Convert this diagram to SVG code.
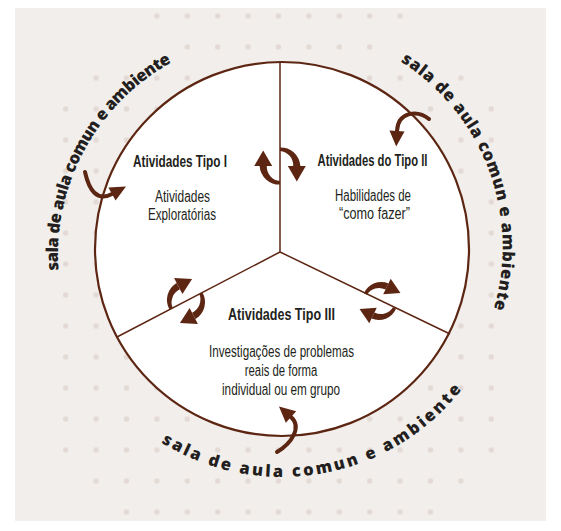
<svg xmlns="http://www.w3.org/2000/svg" width="561" height="531" viewBox="0 0 561 531">
<defs>
<style>
.lbl{font-family:"Liberation Sans",Arial,sans-serif;font-size:16px;fill:#231f20;text-anchor:middle}
.ttl{font-weight:700}
.arc{font-family:"Open Sans","Liberation Sans",sans-serif;font-weight:800;font-size:16.5px;fill:#231f20}
.ring{fill:#fff;stroke:#5c2613;stroke-width:2.2}
.div{stroke:#5c2613;stroke-width:1.5;fill:none}
.conn{stroke:#5c2613;stroke-width:4;fill:none;stroke-linecap:round}
.head{fill:#5c2613}
</style>
<pattern id="dots" patternUnits="userSpaceOnUse" x="50.5" y="0.5" width="30.4" height="31">
<circle cx="15.2" cy="15.5" r="2.7" fill="#e3d9d5"/>
</pattern>
<path id="pL" d="M 58.5,270.3 A 220 220 0 0 1 202.8,48.3"/>
<path id="pR" d="M 400.5,61.5 A 220 220 0 0 1 488.7,324.2"/>
<path id="pB" d="M 161.2,442.4 A 228 228 0 0 0 479.5,363"/>
<g id="refresh" class="head">
<path d="M 0,-15.5 A 16.5 16.5 0 0 1 17,0 L 11,0 A 12 12 0 0 0 0,-12.5 Z"/>
<path d="M 6.5,0 L 21.5,0 L 14,13 Z"/>
<path transform="rotate(180)" d="M 0,-15.5 A 16.5 16.5 0 0 1 17,0 L 11,0 A 12 12 0 0 0 0,-12.5 Z"/>
<path transform="rotate(180)" d="M 6.5,0 L 21.5,0 L 14,13 Z"/>
</g>
</defs>

<g id="background">
<rect x="15" y="8" width="531" height="513" fill="#f2eeeb"/>
<rect x="141.7" y="0.5" width="273.6" height="31" fill="url(#dots)"/>
<rect x="172.1" y="31.5" width="212.8" height="31" fill="url(#dots)"/>
<rect x="80.9" y="62.5" width="395.2" height="31" fill="url(#dots)"/>
<rect x="50.5" y="93.5" width="456" height="372" fill="url(#dots)"/>
<rect x="80.9" y="465.5" width="395.2" height="31" fill="url(#dots)"/>
<rect x="111.3" y="496.5" width="334.4" height="24.5" fill="url(#dots)"/>
</g>

<g id="ring">
<circle class="ring" cx="282" cy="249" r="187"/>
<path class="div" d="M 280,62 L 280,252 M 280,252 L 117,337 M 280,252 L 450,334"/>
</g>

<g id="node-tipo1">
<text class="lbl ttl" x="180" y="167" textLength="94" lengthAdjust="spacingAndGlyphs">Atividades Tipo I</text>
<text class="lbl" x="182.5" y="201.5" textLength="55" lengthAdjust="spacingAndGlyphs">Atividades</text>
<text class="lbl" x="182" y="220" textLength="68" lengthAdjust="spacingAndGlyphs">Exploratórias</text>
</g>

<g id="node-tipo2">
<text class="lbl ttl" x="372.5" y="166" textLength="110" lengthAdjust="spacingAndGlyphs">Atividades do Tipo II</text>
<text class="lbl" x="373" y="201" textLength="76" lengthAdjust="spacingAndGlyphs">Habilidades de</text>
<text class="lbl" x="374.5" y="218.5" textLength="71" lengthAdjust="spacingAndGlyphs">“como fazer”</text>
</g>

<g id="node-tipo3">
<text class="lbl ttl" x="281.5" y="320" textLength="107" lengthAdjust="spacingAndGlyphs">Atividades Tipo III</text>
<text class="lbl" x="281.5" y="357" textLength="145" lengthAdjust="spacingAndGlyphs">Investigações de problemas</text>
<text class="lbl" x="281" y="376" textLength="72.5" lengthAdjust="spacingAndGlyphs">reais de forma</text>
<text class="lbl" x="281" y="395" textLength="118" lengthAdjust="spacingAndGlyphs">individual ou em grupo</text>
</g>

<g id="node-sala-esquerda">
<text class="arc" letter-spacing="-0.5"><textPath href="#pL">sala de aula comun e ambiente</textPath></text>
</g>
<g id="node-sala-direita">
<text class="arc" letter-spacing="0.7"><textPath href="#pR">sala de aula comun e ambiente</textPath></text>
</g>
<g id="node-sala-inferior">
<text class="arc" letter-spacing="2.5"><textPath href="#pB">sala de aula comun e ambiente</textPath></text>
</g>

<g id="connectors">
<path class="conn" d="M 85,172 C 89,190 97,202 112,194"/>
<path class="head" d="M 108.4,187.5 L 115.6,200.5 L 126,186.5 Z"/>
<path class="conn" d="M 429,119 C 418,110 398,111 397,131"/>
<path class="head" d="M 389.5,130.6 L 404.5,131.4 L 396.2,146.5 Z"/>
<path class="conn" d="M 277,452 C 292,443 302,427 291,417"/>
<path class="head" d="M 296.2,411.3 L 285.8,422.7 L 279,406.5 Z"/>
<use href="#refresh" transform="translate(280,166) scale(1.2)"/>
<use href="#refresh" transform="translate(186,301) rotate(62.5) scale(1.2)"/>
<use href="#refresh" transform="translate(380,301) rotate(-64.3) scale(1.15)"/>
</g>
</svg>
